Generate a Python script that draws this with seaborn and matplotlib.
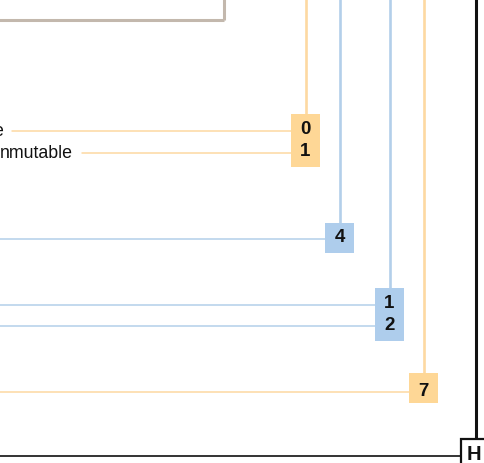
import matplotlib
matplotlib.use("Agg")
import matplotlib.pyplot as plt
from matplotlib.patches import Rectangle
import seaborn as sns

# ---- data ----
row_labels = ["e", "nmutable", "", "", "", ""]
port_numbers = ["0", "1", "4", "1", "2", "7"]
port_groups = [0, 0, 1, 2, 2, 3]
group_kinds = ["orange", "blue", "blue", "orange"]
end_label = "H"

sns.set_theme(style="white")
plt.rcParams['font.family'] = ['Liberation Sans', 'DejaVu Sans']

ORANGE = "#fed796"
ORANGE_LINE = "#fdd9a2"
BLUE = "#aecdec"
BLUE_LINE = "#b3cfea"
fill = {"orange": ORANGE, "blue": BLUE}
line = {"orange": ORANGE_LINE, "blue": BLUE_LINE}

fig = plt.figure(figsize=(4.84, 4.63), dpi=100)
ax = fig.add_axes([0, 0, 1, 1])
ax.set_xlim(0, 484)
ax.set_ylim(463, 0)
ax.axis("off")

# layout (pixel space)
row_y = [131, 153, 239, 305, 326, 392]
label_right = [3, 73, None, None, None, None]
group_box = [  # x0, x1, y0, y1
    (291, 320, 114, 167),
    (325, 354, 223, 253),
    (375, 404, 288, 341),
    (409, 438, 373, 403),
]

# top-left frame
ax.plot([-5, 224], [19.5, 19.5], color="#c3b8ad", lw=2.2, solid_capstyle="butt")
ax.plot([224, 224], [-5, 19.5], color="#c3b8ad", lw=2.2, solid_capstyle="butt")

# vertical lines to boxes
for g, (x0, x1, y0, y1) in enumerate(group_box):
    xc = (x0 + x1) / 2
    ax.plot([xc, xc], [-5, y0], color=line[group_kinds[g]], lw=1.9, zorder=1)

# horizontal lines
for i, (lab, num, g) in enumerate(zip(row_labels, port_numbers, port_groups)):
    x0 = group_box[g][0]
    start = 0 if lab == "" else label_right[i] + 9
    kind = group_kinds[g]
    sns.lineplot(x=[start, x0], y=[row_y[i], row_y[i]], color=line[kind],
                 lw=1.1, ax=ax, zorder=1, legend=False)
    if lab:
        ax.text(label_right[i], row_y[i] + 0.5, lab, ha="right", va="center",
                fontsize=12.8, color="#111111")

# boxes
for g, (x0, x1, y0, y1) in enumerate(group_box):
    ax.add_patch(Rectangle((x0, y0), x1 - x0, y1 - y0, facecolor=fill[group_kinds[g]],
                           edgecolor="none", zorder=2))
for i, (num, g) in enumerate(zip(port_numbers, port_groups)):
    x0, x1, y0, y1 = group_box[g]
    ax.text((x0 + x1) / 2, row_y[i] - 1, num, ha="center", va="center",
            fontsize=13.5, fontweight="bold", color="#111111", zorder=3)

# black connector
ax.plot([475.5, 475.5], [-5, 439], color="#111111", lw=2.2, zorder=1)
ax.plot([0, 461], [455.5, 455.5], color="#333333", lw=1.4, zorder=1)
ax.add_patch(Rectangle((461, 439), 40, 40, facecolor="white", edgecolor="#111111",
                       lw=1.6, zorder=2))
ax.text(467, 455, end_label, ha="left", va="center", fontsize=14.5,
        fontweight="bold", color="#111111", zorder=3)

fig.savefig("out.png", dpi=100)
